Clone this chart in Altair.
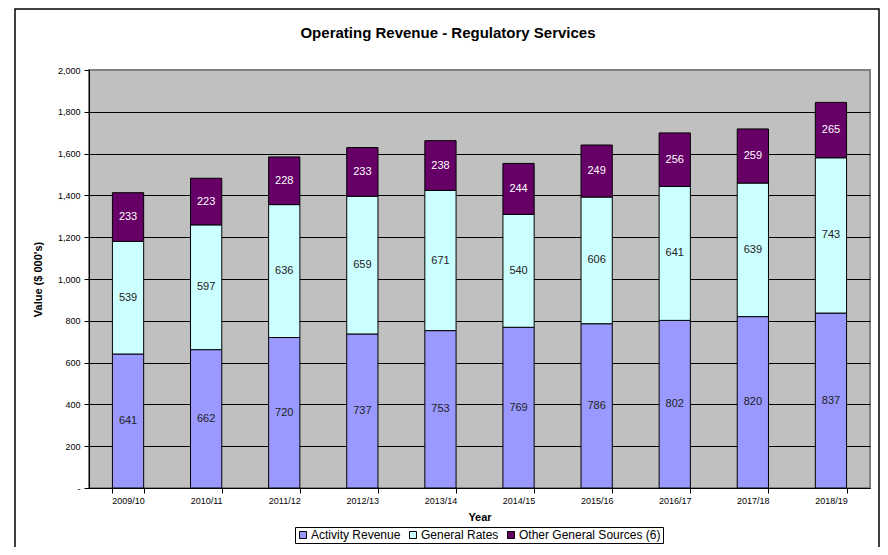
import altair as alt
import pandas as pd

years = ["2009/10", "2010/11", "2011/12", "2012/13", "2013/14",
         "2014/15", "2015/16", "2016/17", "2017/18", "2018/19"]
activity = [641, 662, 720, 737, 753, 769, 786, 802, 820, 837]
general = [539, 597, 636, 659, 671, 540, 606, 641, 639, 743]
other = [233, 223, 228, 233, 238, 244, 249, 256, 259, 265]
series = ["Activity Revenue", "General Rates", "Other General Sources (6)"]
colors = ["#9999FF", "#CCFFFF", "#660066"]
y_ticks = [0, 200, 400, 600, 800, 1000, 1200, 1400, 1600, 1800, 2000]
title_text = "Operating Revenue - Regulatory Services"

rows = []
for i, y in enumerate(years):
    for k, (s, vals) in enumerate(zip(series, [activity, general, other])):
        rows.append({"year": y, "series": s, "k": k, "value": vals[i]})
df = pd.DataFrame(rows)

base = alt.Chart(df).transform_stack(
    stack="value", groupby=["year"], sort=[alt.SortField("k")], as_=["y0", "y1"]
)

xenc = alt.X("year:N", sort=years,
             scale=alt.Scale(paddingInner=0.6, paddingOuter=0.3),
             axis=alt.Axis(title="Year", labelAngle=0, tickBand="extent",
                           labelFontSize=9, labelFont="Arial", labelColor="#000",
                           labelPadding=3,
                           titleFont="Arial", titleFontSize=11, titleFontWeight="bold",
                           titlePadding=6, tickColor="#000", tickSize=5,
                           domainColor="#000", grid=False))

bars = base.mark_bar(stroke="#000", strokeWidth=1).encode(
    x=xenc,
    y=alt.Y("y0:Q", scale=alt.Scale(domain=[0, 2000], nice=False),
            axis=alt.Axis(title="Value ($ 000's)", values=y_ticks,
                          labelExpr="datum.value == 0 ? '-' : format(datum.value, ',')",
                          labelFontSize=9, labelFont="Arial", labelColor="#000",
                          labelPadding=4,
                          titleFont="Arial", titleFontSize=11, titleFontWeight="bold",
                          titlePadding=14, tickColor="#000", tickSize=5,
                          domainColor="#000", grid=True,
                          gridColor={"condition": {"test": "datum.value >= 2000", "value": "#808080"},
                                     "value": "#000000"},
                          gridWidth=1)),
    y2="y1:Q",
    color=alt.Color("series:N", sort=series,
                    scale=alt.Scale(domain=series, range=colors),
                    legend=alt.Legend(title=None, orient="none", direction="horizontal",
                                      legendX=206, legendY=457,
                                      symbolType="square", symbolSize=49,
                                      symbolStrokeColor="#000", symbolStrokeWidth=1,
                                      labelFont="Arial", labelFontSize=12,
                                      labelColor="#000", labelOffset=2,
                                      columnPadding=6, padding=2,
                                      strokeColor="#000", fillColor="#fff")),
)

labels = base.transform_calculate(mid="(datum.y0 + datum.y1) / 2").mark_text(
    font="Arial", fontSize=11, baseline="middle"
).encode(
    x=alt.X("year:N", sort=years),
    y=alt.Y("mid:Q"),
    text=alt.Text("value:Q"),
    color=alt.condition(alt.datum.k == 2, alt.value("#ffffff"), alt.value("#222222")),
)

deco = alt.Chart(pd.DataFrame({"t": [title_text]}))

border = deco.mark_rect(fill=None, stroke="#000", strokeWidth=1.5).encode(
    x=alt.value(-74), x2=alt.value(790), y=alt.value(-61), y2=alt.value(485)
)

title = deco.mark_text(font="Arial", fontSize=15, fontWeight="bold",
                       align="center", baseline="alphabetic", color="#000").encode(
    x=alt.value(359), y=alt.value(-32), text="t:N"
)

chart = alt.layer(border, title, bars, labels).properties(
    width=781, height=418,
    background="#ffffff",
    autosize=alt.AutoSizeParams(type="none"),
    padding={"left": 81, "top": 62, "right": 10, "bottom": 59},
).configure_view(
    fill="#C0C0C0", stroke="#808080", strokeWidth=2
)

chart.save("out.html", embed_options={"renderer": "svg", "actions": False})
